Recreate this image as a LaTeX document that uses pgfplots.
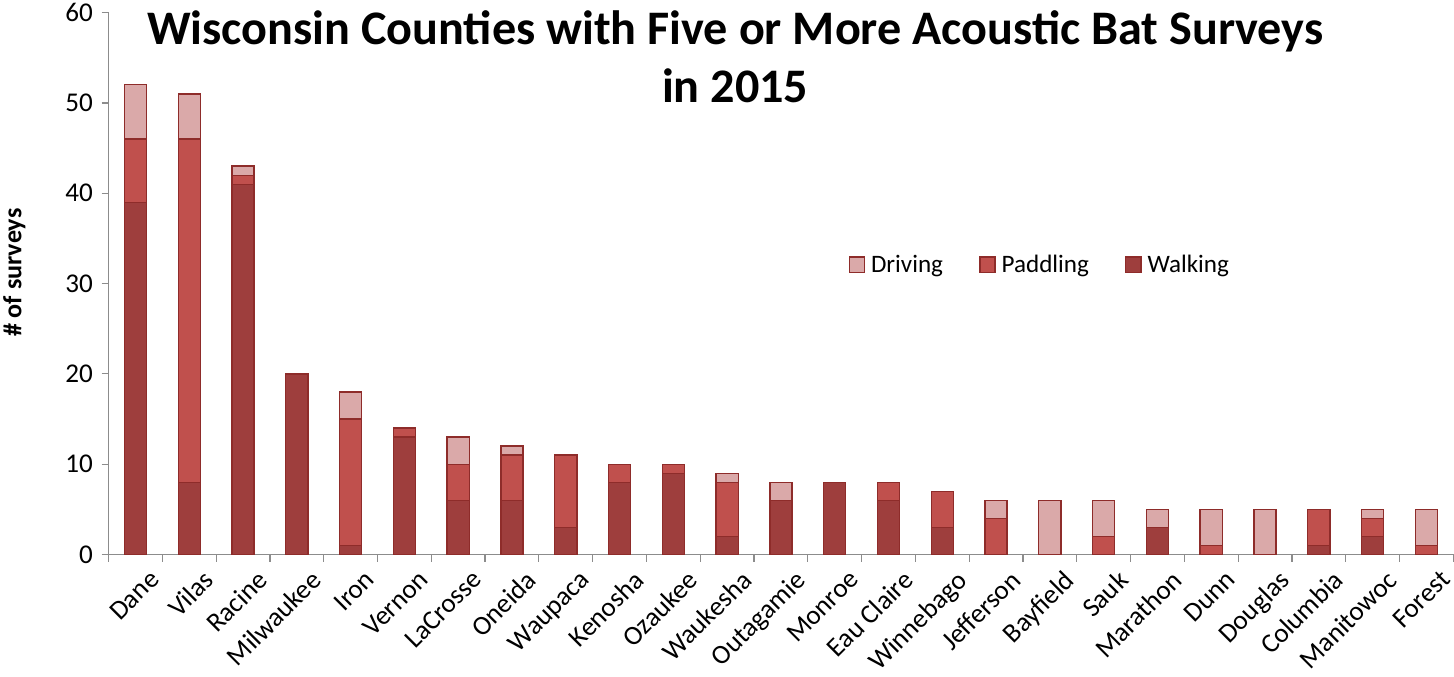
\documentclass[border=0pt]{standalone}
\usepackage{pgfplots}
\pgfplotsset{compat=1.18}
\usepackage{fontspec}
\setmainfont{Carlito}

\definecolor{walkc}{HTML}{9E3E3D}
\definecolor{padc}{HTML}{C0504D}
\definecolor{drivec}{HTML}{DAA9A9}
\definecolor{edgec}{HTML}{8E2C2A}
\definecolor{axc}{HTML}{8C8C8C}

\begin{document}
\begin{tikzpicture}
\begin{axis}[
  scale only axis,
  width=1335bp, height=538bp,
  ybar stacked,
  bar width=22bp,
  xmin=-0.5, xmax=24.5,
  ymin=0, ymax=60,
  ytick={0,10,...,60},
  xtick={0,...,24},
  xticklabels={Dane,Vilas,Racine,Milwaukee,Iron,Vernon,LaCrosse,Oneida,Waupaca,Kenosha,Ozaukee,Waukesha,Outagamie,Monroe,Eau Claire,Winnebago,Jefferson,Bayfield,Sauk,Marathon,Dunn,Douglas,Columbia,Manitowoc,Forest},
  minor xtick={-0.5,0.5,...,24.5},
  major x tick style={draw=none},
  minor x tick style={draw=axc, line width=1.2bp},
  y tick style={draw=axc, line width=1.2bp},
  tick align=outside,
  major tick length=7bp,
  minor tick length=7bp,
  axis x line*=bottom,
  axis y line*=left,
  axis line style={draw=axc, line width=1.5bp, -},
  /pgf/number format/assume math mode=true,
  tick label style={font=\fontsize{27}{31}\selectfont},
  xticklabel style={rotate=45, anchor=north east, inner sep=1pt, yshift=-13bp, xshift=5bp},
  yticklabel style={xshift=-5bp},
  ylabel={\textbf{\# of surveys}},
  ylabel style={font=\fontsize{26}{30}\selectfont, at={(axis description cs:-0.07,0.52)}, anchor=center},
  title={\textbf{Wisconsin Counties with Five or More Acoustic Bat Surveys}\\\textbf{in 2015}},
  title style={font=\fontsize{48}{57}\selectfont, align=center, at={(rel axis cs:0.466,1)}, anchor=north, yshift=-1bp},
  legend style={draw=none, fill=none, at={(rel axis cs:0.548,0.535)}, anchor=west,
    font=\fontsize{25}{29}\selectfont, legend columns=3,
    /tikz/every odd column/.append style={column sep=4bp},
    /tikz/every even column/.append style={column sep=34bp}},
  legend image code/.code={\draw[#1, line width=1.2bp] (0bp,-7.5bp) rectangle (15bp,7.5bp);},
  reverse legend,
  every axis plot/.append style={draw=edgec, line width=1.3bp},
]
\addplot[fill=walkc] coordinates {(0,39) (1,8) (2,41) (3,20) (4,1) (5,13) (6,6) (7,6) (8,3) (9,8) (10,9) (11,2) (12,6) (13,8) (14,6) (15,3) (16,0) (17,0) (18,0) (19,3) (20,0) (21,0) (22,1) (23,2) (24,0)};
\addplot[fill=padc] coordinates {(0,7) (1,38) (2,1) (3,0) (4,14) (5,1) (6,4) (7,5) (8,8) (9,2) (10,1) (11,6) (12,0) (13,0) (14,2) (15,4) (16,4) (17,0) (18,2) (19,0) (20,1) (21,0) (22,4) (23,2) (24,1)};
\addplot[fill=drivec] coordinates {(0,6) (1,5) (2,1) (3,0) (4,3) (5,0) (6,3) (7,1) (8,0) (9,0) (10,0) (11,1) (12,2) (13,0) (14,0) (15,0) (16,2) (17,6) (18,4) (19,2) (20,4) (21,5) (22,0) (23,1) (24,4)};
\legend{Walking,Paddling,Driving}
\end{axis}
\end{tikzpicture}
\end{document}
